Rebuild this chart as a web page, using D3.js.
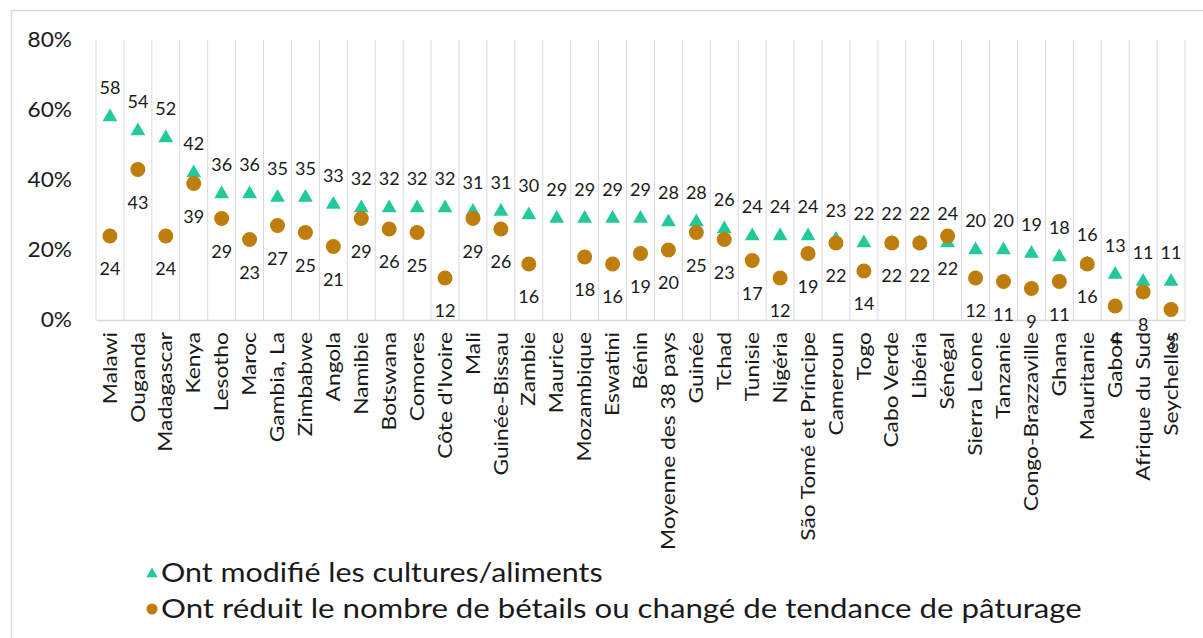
<!DOCTYPE html>
<html><head><meta charset="utf-8">
<script src="https://cdn.jsdelivr.net/npm/d3@7"></script>
<style>body{margin:0;background:#fff}svg{display:block}text{font-family:Lato,"Open Sans",sans-serif;fill:#1a1a1a}</style>
</head><body>
<svg id="c" width="1203" height="638"></svg>
<script>
const categories = ["Malawi","Ouganda","Madagascar","Kenya","Lesotho","Maroc","Gambia, La","Zimbabwe","Angola","Namibie","Botswana","Comores","Côte d'Ivoire","Mali","Guinée-Bissau","Zambie","Maurice","Mozambique","Eswatini","Bénin","Moyenne des 38 pays","Guinée","Tchad","Tunisie","Nigéria","São Tomé et Príncipe","Cameroun","Togo","Cabo Verde","Libéria","Sénégal","Sierra Leone","Tanzanie","Congo-Brazzaville","Ghana","Mauritanie","Gabon","Afrique du Sud","Seychelles"];
// "Ont modifié les cultures/aliments" (%)
const cropValues = [58,54,52,42,36,36,35,35,33,32,32,32,32,31,31,30,29,29,29,29,28,28,26,24,24,24,23,22,22,22,22,20,20,19,18,16,13,11,11];
const cropLabels = ["58","54","52","42","36","36","35","35","33","32","32","32","32","31","31","30","29","29","29","29","28","28","26","24","24","24","23","22","22","22","24","20","20","19","18","16","13","11","11"];
// "Ont réduit le nombre de bétails ou changé de tendance de pâturage" (%)
const livestockValues = [24,43,24,39,29,23,27,25,21,29,26,25,12,29,26,16,null,18,16,19,20,25,23,17,12,19,22,14,22,22,24,12,11,9,11,16,4,8,3];
const livestockLabels = ["24","43","24","39","29","23","27","25","21","29","26","25","12","29","26","16","","18","16","19","20","25","23","17","12","19","22","14","22","22","22","12","11","9","11","16","4","8","3"];
const yTicks = [0,20,40,60,80];
const seriesNames = ["Ont modifié les cultures/aliments","Ont réduit le nombre de bétails ou changé de tendance de pâturage"];
const colors = ["#22c99b","#bf7d0b"];

const svg = d3.select("#c");
const x = d3.scaleBand().domain(categories).range([96,1185]);
const y = d3.scaleLinear().domain([0,80]).range([320,40]);

svg.append("rect").attr("x",11.5).attr("y",10.5).attr("width",1300).attr("height",700)
  .attr("fill","none").attr("stroke","#d9d9d9").attr("stroke-width",1.5);

// vertical gridlines at band boundaries
const bounds = categories.map(c=>x(c)).concat([x.range()[1]]);
svg.append("g").selectAll("line").data(bounds).join("line")
  .attr("x1",d=>d).attr("x2",d=>d).attr("y1",y(80)).attr("y2",y(0))
  .attr("stroke","#d9d9d9").attr("stroke-width",1);

// y axis labels
const yAxis = d3.axisLeft(y).tickValues(yTicks).tickFormat(d=>d+"%").tickSize(0).tickPadding(0);
const gy = svg.append("g").attr("transform","translate(72,0)").call(yAxis);
gy.select(".domain").remove();
gy.selectAll("text").attr("font-size",21).attr("font-family","Lato").attr("fill","#1a1a1a")
  .attr("transform","scale(1.08,1)").attr("x",0);

// x axis
const xAxis = d3.axisBottom(x).tickSize(0).tickPadding(0);
const gx = svg.append("g").attr("transform","translate(0,"+y(0)+")").call(xAxis);
gx.select(".domain").attr("stroke","#d9d9d9").attr("stroke-width",1.5);
gx.selectAll("text").attr("font-size",19).attr("font-family","Lato").attr("fill","#1a1a1a")
  .attr("text-anchor","end").attr("dy","0.35em")
  .attr("transform","translate(0,12) rotate(-90) scale(1.2,1)").attr("x",0).attr("y",0);

const cx = d=>x(d)+x.bandwidth()/2;
const tri = d3.symbol().type(d3.symbolTriangle).size(95);

// crops series: triangles
const g1 = svg.append("g");
g1.selectAll("path").data(categories).join("path")
  .attr("d",tri).attr("fill",colors[0])
  .attr("transform",(d,i)=>"translate("+cx(d)+","+y(cropValues[i])+")");
// livestock: circles
const g2 = svg.append("g");
g2.selectAll("circle").data(categories.filter((d,i)=>livestockValues[i]!=null)).join("circle")
  .attr("cx",cx).attr("cy",d=>y(livestockValues[categories.indexOf(d)])).attr("r",7.5).attr("fill",colors[1]);

// data labels
svg.append("g").selectAll("text").data(categories).join("text")
  .attr("x",cx).attr("y",(d,i)=>y(cropValues[i])-29).attr("dy","0.35em")
  .attr("text-anchor","middle").attr("font-size",18).text((d,i)=>cropLabels[i]);
svg.append("g").selectAll("text").data(categories).join("text")
  .attr("x",cx).attr("y",(d,i)=>livestockValues[i]==null?0:y(livestockValues[i])+33).attr("dy","0.35em")
  .attr("text-anchor","middle").attr("font-size",18).text((d,i)=>livestockLabels[i]);

// legend
const lg = svg.append("g");
lg.append("path").attr("d",d3.symbol().type(d3.symbolTriangle).size(55)).attr("fill",colors[0])
  .attr("transform","translate(152,574)");
lg.append("circle").attr("cx",152).attr("cy",609).attr("r",5.5).attr("fill",colors[1]);
lg.append("text").attr("transform","translate(161,573) scale(1.17,1)").attr("dy","0.35em").attr("font-size",26).text(seriesNames[0]);
lg.append("text").attr("transform","translate(161,609) scale(1.2,1)").attr("dy","0.35em").attr("font-size",26).text(seriesNames[1]);
</script>
</body></html>
